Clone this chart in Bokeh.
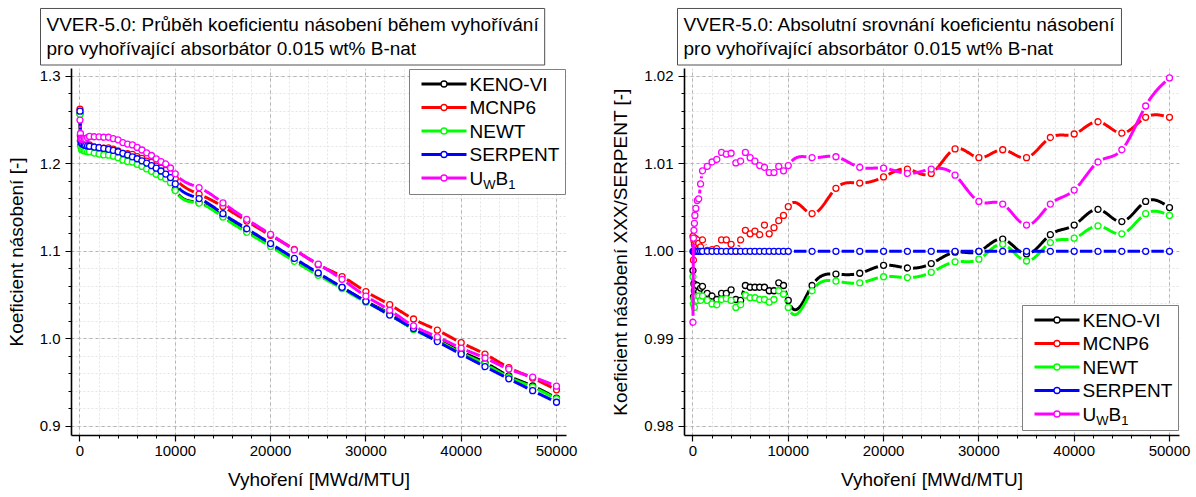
import numpy as np
from bokeh.plotting import figure
from bokeh.layouts import row
from bokeh.core.properties import value
from bokeh.models import Range1d, FixedTicker, PrintfTickFormatter, Title
from bokeh.embed import file_html
from bokeh.resources import INLINE

# ---------------------------------------------------------------- data
burnup = [0, 50, 100, 150, 200, 300, 450, 600, 800, 1000,
          1500, 2000, 2500, 3000, 3500, 4000, 4500, 5000, 5500, 6000,
          6500, 7000, 7500, 8000, 8500, 9000, 9500, 10000,
          12500, 15000, 17500, 20000, 22500, 25000, 27500, 30000,
          32500, 35000, 37500, 40000, 42500, 45000, 47500, 50000]

# reference code: multiplication factor k-inf
k_serpent = [1.2604, 1.2330, 1.2265, 1.2245, 1.2235, 1.2225, 1.2218, 1.2212, 1.2207, 1.2203,
             1.2193, 1.2186, 1.2178, 1.2168, 1.2155, 1.2140, 1.2122, 1.2103, 1.2082, 1.2060,
             1.2036, 1.2010, 1.1982, 1.1952, 1.1920, 1.1885, 1.1845, 1.1772,
             1.1605, 1.1432, 1.1260, 1.1090, 1.0921, 1.0754, 1.0590, 1.0430,
             1.0273, 1.0120, 0.9971, 0.9826, 0.9684, 0.9545, 0.9409, 0.9277]

# ratios XXX/SERPENT
ratio_keno = [0.9978, 0.9948, 0.9963, 0.9955, 0.9962, 0.9957, 0.9961, 0.9954, 0.9958, 0.9960,
              0.9952, 0.9949, 0.9945, 0.9952, 0.9952, 0.9956, 0.9945, 0.9944, 0.9961, 0.9959,
              0.9959, 0.9959, 0.9959, 0.9955, 0.9955, 0.9964, 0.9961, 0.9944,
              0.9961, 0.9974, 0.9975, 0.9984, 0.9981, 0.9986, 0.9999, 1.0000,
              1.0014, 0.9997, 1.0019, 1.0030, 1.0048, 1.0034, 1.0057, 1.0050]
ratio_mcnp = [1.0017, 0.9990, 1.0012, 1.0008, 1.0015, 1.0011, 1.0013, 1.0009, 1.0005, 1.0013,
              1.0001, 1.0002, 1.0003, 1.0013, 1.0013, 1.0008, 1.0000, 1.0013, 1.0024, 1.0020,
              1.0023, 1.0019, 1.0030, 1.0020, 1.0027, 1.0035, 1.0041, 1.0051,
              1.0043, 1.0072, 1.0078, 1.0085, 1.0094, 1.0089, 1.0117, 1.0107,
              1.0116, 1.0107, 1.0130, 1.0134, 1.0148, 1.0135, 1.0153, 1.0153]
ratio_newt = [0.9971, 0.9940, 0.9946, 0.9936, 0.9944, 0.9948, 0.9944, 0.9949, 0.9944, 0.9949,
              0.9944, 0.9940, 0.9939, 0.9945, 0.9946, 0.9944, 0.9936, 0.9939, 0.9950, 0.9947,
              0.9947, 0.9945, 0.9945, 0.9942, 0.9945, 0.9955, 0.9951, 0.9936,
              0.9955, 0.9966, 0.9964, 0.9971, 0.9970, 0.9976, 0.9988, 0.9991,
              1.0008, 0.9989, 1.0010, 1.0015, 1.0029, 1.0020, 1.0043, 1.0041]
ratio_serpent = [1.0] * len(burnup)
ratio_uwb1 = [0.9919, 1.0015, 1.0024, 1.0032, 1.0041, 1.0049, 1.0058, 1.0060, 1.0077, 1.0092,
              1.0097, 1.0102, 1.0105, 1.0113, 1.0111, 1.0112, 1.0101, 1.0103, 1.0113, 1.0107,
              1.0103, 1.0098, 1.0096, 1.0090, 1.0090, 1.0097, 1.0092, 1.0098,
              1.0107, 1.0108, 1.0096, 1.0095, 1.0089, 1.0094, 1.0087, 1.0057,
              1.0054, 1.0030, 1.0054, 1.0070, 1.0102, 1.0116, 1.0166, 1.0198]

codes = ["KENO-VI", "MCNP6", "NEWT", "SERPENT", "UwB1"]
colors = ["#000000", "#ff0000", "#00ff00", "#0000ff", "#ff00ff"]
ratios = [ratio_keno, ratio_mcnp, ratio_newt, ratio_serpent, ratio_uwb1]

x_ticks = [0, 10000, 20000, 30000, 40000, 50000]
x_minor = list(range(0, 52000, 2000))
k_ticks = [0.9, 1.0, 1.1, 1.2, 1.3]
k_minor = [round(0.88 + 0.02 * i, 2) for i in range(22)]
r_ticks = [0.98, 0.99, 1.00, 1.01, 1.02]
r_minor = [round(0.978 + 0.002 * i, 3) for i in range(23)]

# absolute k of every code = SERPENT k times its ratio
k_abs = [[s * r for s, r in zip(k_serpent, rr)] for rr in ratios]

# ---------------------------------------------------------------- layout
FONT = "Liberation Sans"
FIG_W, FIG_H = 598, 497
BORDER_TOP, BORDER_BOTTOM = 68, 62
FRAME_W = 495
FRAME_H = FIG_H - BORDER_TOP - BORDER_BOTTOM
X_RANGE = (-890, 51050)
GAP_PX = 5.5

# legend box geometry in pixels
LEG_W, LEG_H = 156, 125
LEG_ROW_TOP, LEG_ROW_STEP = 14.5, 23.5
LEG_LINE = (12, 57)
LEG_TEXT_X = 60
LEG_FONT = 19
SUB_FONT = 13


def natural_spline_m(x, y):
    n = len(x)
    h = np.diff(x)
    A = np.zeros((n, n))
    r = np.zeros(n)
    A[0, 0] = A[-1, -1] = 1.0
    for i in range(1, n - 1):
        A[i, i - 1] = h[i - 1]
        A[i, i] = 2.0 * (h[i - 1] + h[i])
        A[i, i + 1] = h[i]
        r[i] = 6.0 * ((y[i + 1] - y[i]) / h[i] - (y[i] - y[i - 1]) / h[i - 1])
    return np.linalg.solve(A, r)


def gapped_spline(x, y, kx, ky, gap=GAP_PX, samples=64):
    """Spline through the points, broken a few pixels around every symbol."""
    x = np.asarray(x, float)
    y = np.asarray(y, float)
    M = natural_spline_m(x, y)
    h = np.diff(x)
    xs, ys = [], []
    for i in range(len(x) - 1):
        t = np.linspace(x[i], x[i + 1], samples)
        a = x[i + 1] - t
        b = t - x[i]
        s = ((M[i] * a ** 3 + M[i + 1] * b ** 3) / (6 * h[i])
             + (y[i] / h[i] - M[i] * h[i] / 6) * a
             + (y[i + 1] / h[i] - M[i + 1] * h[i] / 6) * b)
        d0 = np.hypot((t - x[i]) * kx, (s - y[i]) * ky)
        d1 = np.hypot((t - x[i + 1]) * kx, (s - y[i + 1]) * ky)
        idx = np.flatnonzero((d0 > gap) & (d1 > gap))
        if idx.size < 2:
            continue
        for run in np.split(idx, np.flatnonzero(np.diff(idx) > 1) + 1):
            if run.size >= 2:
                xs.append(t[run].tolist())
                ys.append(s[run].tolist())
    return xs, ys


def build_panel(series, y_range, y_ticks, y_minor, y_fmt, y_label,
                border_left, title_text, title_dx, legend_left, legend_top):
    border_right = FIG_W - border_left - FRAME_W
    p = figure(width=FIG_W, height=FIG_H,
               x_range=Range1d(*X_RANGE), y_range=Range1d(*y_range),
               output_backend="svg", toolbar_location=None,
               min_border_left=border_left, min_border_right=border_right,
               min_border_top=BORDER_TOP, min_border_bottom=BORDER_BOTTOM)
    p.outline_line_color = None
    p.background_fill_color = "white"

    kx = FRAME_W / (X_RANGE[1] - X_RANGE[0])
    ky = FRAME_H / (y_range[1] - y_range[0])

    def dx_(px):   # frame pixels from the left edge -> data x
        return X_RANGE[0] + px / kx

    def dy_(py):   # frame pixels from the top edge -> data y
        return y_range[1] - py / ky

    for color, vals in zip(colors, series):
        xs, ys = gapped_spline(burnup, vals, kx, ky)
        p.multi_line(xs, ys, line_color=color, line_width=3.0, line_cap="butt")
        p.scatter(burnup, vals, marker="circle", size=6,
                  fill_color="white", line_color=color, line_width=1.3)

    # axes
    p.xaxis.ticker = FixedTicker(ticks=x_ticks, minor_ticks=x_minor)
    p.yaxis.ticker = FixedTicker(ticks=y_ticks, minor_ticks=y_minor)
    p.xaxis.formatter = PrintfTickFormatter(format="%d")
    p.yaxis.formatter = PrintfTickFormatter(format=y_fmt)
    p.xaxis.axis_label = "Vyhoření [MWd/MTU]"
    p.yaxis.axis_label = y_label
    for ax in (p.xaxis, p.yaxis):
        ax.axis_line_color = "black"
        ax.axis_line_width = 1.6
        ax.major_tick_line_color = "black"
        ax.minor_tick_line_color = "black"
        ax.major_tick_line_width = 1.2
        ax.minor_tick_line_width = 1.0
        ax.major_tick_in = 0
        ax.major_tick_out = 6
        ax.minor_tick_in = 0
        ax.minor_tick_out = 3
        ax.major_label_text_font = FONT
        ax.major_label_text_font_size = "15px"
        ax.major_label_text_color = "black"
        ax.axis_label_text_font = FONT
        ax.axis_label_text_font_size = "19px"
        ax.axis_label_text_font_style = "normal"
        ax.axis_label_text_color = "black"
    p.xaxis.major_label_standoff = 4
    p.xaxis.axis_label_standoff = 10
    p.yaxis.major_label_standoff = 5
    p.yaxis.axis_label_standoff = 10

    # grid
    for g in (p.xgrid, p.ygrid):
        g.grid_line_color = "#b4b4b4"
        g.grid_line_width = 1
        g.grid_line_dash = "3 3"
        g.minor_grid_line_color = "#e4e4e4"
        g.minor_grid_line_width = 1
        g.minor_grid_line_dash = "2 2"

    # legend: framed box with a line+symbol sample and the code name per row
    L, T = legend_left, legend_top
    p.quad(left=[dx_(L)], right=[dx_(L + LEG_W)], top=[dy_(T)], bottom=[dy_(T + LEG_H)],
           fill_color="white", line_color="#808080", line_width=1)
    for i, (name, color) in enumerate(zip(codes, colors)):
        cy = T + LEG_ROW_TOP + i * LEG_ROW_STEP
        p.segment(x0=[dx_(L + LEG_LINE[0])], x1=[dx_(L + LEG_LINE[1])],
                  y0=[dy_(cy)], y1=[dy_(cy)], line_color=color, line_width=3.0)
        p.scatter(x=[dx_(L + (LEG_LINE[0] + LEG_LINE[1]) / 2)], y=[dy_(cy)],
                  marker="circle", size=6, fill_color="white",
                  line_color=color, line_width=1.3)
        if name == "UwB1":
            w_u, w_w, w_b = 0.722 * LEG_FONT, 0.944 * SUB_FONT, 0.667 * LEG_FONT
            parts = (("U", 0, 0, LEG_FONT), ("W", w_u, 6, SUB_FONT),
                     ("B", w_u + w_w, 0, LEG_FONT), ("1", w_u + w_w + w_b, 6, SUB_FONT))
        else:
            parts = ((name, 0, 0, LEG_FONT),)
        for txt, ox, oy, size in parts:
            p.text(x=[dx_(L + LEG_TEXT_X + ox)], y=[dy_(cy + oy)], text=[txt],
                   text_font=value(FONT), text_font_size=value(f"{size}px"),
                   text_color="black", text_baseline="middle", text_align="left")

    # boxed title above the frame
    p.add_layout(Title(text=title_text, align="left", offset=title_dx,
                       standoff=7, text_font=FONT, text_font_size="19px",
                       text_font_style="normal", text_color="black",
                       text_line_height=1.12,
                       border_line_color="#505050", border_line_width=1,
                       background_fill_color="white", padding=6), "above")
    return p


left = build_panel(k_abs, (0.88971, 1.30914), k_ticks, k_minor, "%.1f",
                   "Koeficient násobení [-]", 71,
                   "VVER-5.0: Průběh koeficientu násobení během vyhořívání\n"
                   "pro vyhořívající absorbátor 0.015 wt% B-nat",
                   -31, 338, 1)
right = build_panel(ratios, (0.97897, 1.02088), r_ticks, r_minor, "%.2f",
                    "Koeficient násobení XXX/SERPENT [-]", 86,
                    "VVER-5.0: Absolutní srovnání koeficientu násobení\n"
                    "pro vyhořívající absorbátor 0.015 wt% B-nat",
                    -7, 338, 237)

layout = row(left, right)
open("out.html", "w").write(file_html(layout, INLINE))
